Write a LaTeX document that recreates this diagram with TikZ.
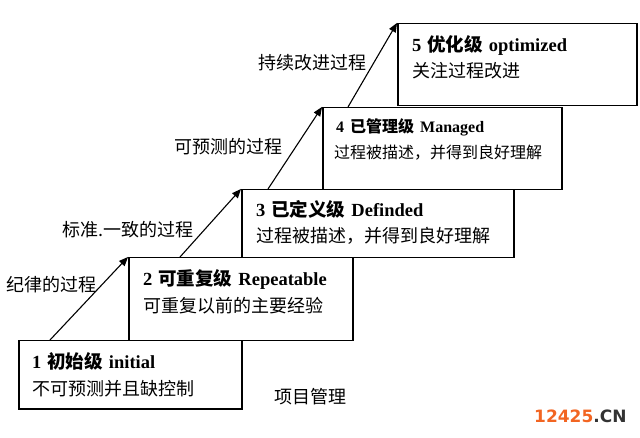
\documentclass[tikz,border=0pt]{standalone}
\usepackage{fontspec}
\setmainfont{Liberation Serif}
\newfontfamily\cjk{Noto Sans CJK SC}
\newfontfamily\wmfont{DejaVu Sans}
\usepackage{tikz}
\usetikzlibrary{arrows}
\definecolor{wmorange}{RGB}{242,101,34}
\definecolor{wmgray}{RGB}{51,51,51}
\newcommand{\gap}{\hspace{6pt}}
\tikzset{
  stage/.style={draw, line width=1.5pt, fill=white, anchor=north west, inner sep=0pt},
  flow/.style={-triangle 45, line width=1.1pt},
  title/.style={anchor=base west, inner sep=0pt, font=\fontsize{18.5}{18}\selectfont\bfseries},
  desc/.style={anchor=base west, inner sep=0pt, font=\fontsize{18}{18}\selectfont\cjk},
  title small/.style={anchor=base west, inner sep=0pt, font=\fontsize{16}{16}\selectfont\bfseries},
  desc small/.style={anchor=base west, inner sep=0pt, font=\fontsize{16}{16}\selectfont\cjk},
  steplabel/.style={inner sep=0pt, font=\fontsize{18}{18}\selectfont\cjk}
}

\begin{document}
\begin{tikzpicture}[x=1pt,y=-1pt]
        \useasboundingbox (0,0) rectangle (640,438);
        \node[stage, minimum width=223pt, minimum height=68pt] (s1) at (18,340) {};
        \node[stage, minimum width=224pt, minimum height=83pt] (s2) at (128,257) {};
        \node[stage, minimum width=272pt, minimum height=68pt] (s3) at (241,189) {};
        \node[stage, minimum width=239pt, minimum height=82pt] (s4) at (322,107) {};
        \node[stage, minimum width=239pt, minimum height=82pt] (s5) at (397,23) {};
        \node[title] (t1) at (32,368) {1\gap{\cjk 初始级}\gap initial};
        \node[desc] (d1) at (32,395) {不可预测并且缺控制};
        \node[title] (t2) at (143,286) {2\gap{\cjk 可重复级}\gap Repeatable};
        \node[desc] (d2) at (143,313) {可重复以前的主要经验};
        \node[title] (t3) at (256,217) {3\gap{\cjk 已定义级}\gap Definded};
        \node[desc] (d3) at (256,243) {过程被描述，并得到良好理解};
        \node[title small] (t4) at (336,133) {4\gap{\cjk 已管理级}\gap Managed};
        \node[desc small] (d4) at (334,159) {过程被描述，并得到良好理解};
        \node[title] (t5) at (412,52) {5\gap{\cjk 优化级}\gap optimized};
        \node[desc] (d5) at (412,78) {关注过程改进};
        \draw[flow] ([xshift=32pt]s1.north west) -- (s2.north west);
        \draw[flow] ([xshift=52pt]s2.north west) -- (s3.north west);
        \draw[flow] ([xshift=27pt]s3.north west) -- (s4.north west);
        \draw[flow] ([xshift=26pt]s4.north west) -- (s5.north west);
        \node[steplabel] (l1) at (51,285) {纪律的过程};
        \node[steplabel] (l2) at (128,230) {标准.一致的过程};
        \node[steplabel] (l3) at (228,147) {可预测的过程};
        \node[steplabel] (l4) at (312,63) {持续改进过程};
        \node[steplabel] (pm) at (310,397) {项目管理};
        \node[anchor=base west, inner sep=0pt, font=\wmfont\bfseries\fontsize{17}{17}\selectfont] (wm) at (534,422) {\textcolor{wmorange}{12425}\textcolor{wmgray}{.CN}};
    \end{tikzpicture}
\end{document}
